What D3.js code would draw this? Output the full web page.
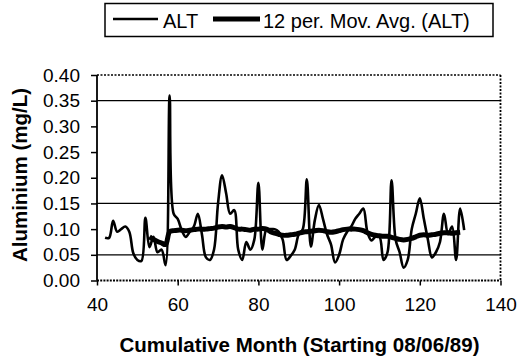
<!DOCTYPE html>
<html><head><meta charset="utf-8">
<script src="https://cdn.jsdelivr.net/npm/d3@7"></script>
<style>
html,body{margin:0;padding:0;background:#fff;}
svg{display:block;font-family:"Liberation Sans",Arial,sans-serif;}
</style></head>
<body><svg id="c" width="518" height="364"></svg>
<script>
// ---- data ----
const altStartMonth = 42;
const altValues = [
 0.083,0.083,0.116,0.095,0.100,0.105,0.095,0.053,0.040,0.038,
 0.122,0.065,0.085,0.055,0.060,0.030,0.360,0.130,0.120,0.098,
 0.085,0.095,0.105,0.130,0.090,0.045,0.040,0.060,0.150,0.205,
 0.170,0.130,0.137,0.060,0.040,0.075,0.060,0.080,0.190,0.060,
 0.100,0.100,0.100,0.095,0.080,0.040,0.048,0.060,0.090,0.100,
 0.197,0.066,0.118,0.147,0.120,0.090,0.070,0.035,0.050,0.080,
 0.095,0.105,0.120,0.130,0.140,0.095,0.078,0.085,0.085,0.040,
 0.055,0.195,0.080,0.055,0.025,0.040,0.100,0.130,0.160,0.120,
 0.080,0.045,0.055,0.075,0.130,0.090,0.105,0.040,0.140,0.098
];
const maStartMonth = 53;
const maValues = [
 0.085,0.080,0.076,0.073,0.070,0.095,0.097,0.098,0.098,0.097,
 0.098,0.099,0.100,0.100,0.100,0.101,0.102,0.104,0.105,0.104,
 0.105,0.103,0.100,0.100,0.099,0.098,0.100,0.100,0.101,0.100,
 0.095,0.092,0.090,0.088,0.088,0.089,0.090,0.092,0.094,0.095,
 0.096,0.097,0.098,0.097,0.095,0.094,0.095,0.097,0.099,0.100,
 0.100,0.100,0.099,0.097,0.093,0.090,0.088,0.087,0.086,0.086,
 0.084,0.082,0.080,0.079,0.080,0.082,0.085,0.088,0.089,0.088,
 0.089,0.090,0.092,0.093,0.093,0.092,0.093,0.094
];
const xTicks = [40,60,80,100,120,140];
const yTicks = [0,0.05,0.10,0.15,0.20,0.25,0.30,0.35,0.40];
const gridValues = [0.05,0.15,0.35];
const seriesNames = ["ALT","12 per. Mov. Avg. (ALT)"];
const xTitle = "Cumulative Month (Starting 08/06/89)";
const yTitle = "Aluminium (mg/L)";

// ---- layout ----
const L=97, R=500.5, T=75, B=280.5;
const svg = d3.select("#c");
const x = d3.scaleLinear().domain([40,140]).range([L,R]);
const y = d3.scaleLinear().domain([0,0.40]).range([B,T]);

// gridlines
svg.append("g").selectAll("line").data(gridValues).join("line")
  .attr("x1",L).attr("x2",R).attr("y1",d=>y(d)).attr("y2",d=>y(d))
  .attr("stroke","#000").attr("stroke-width",1.2);

// frame
const fr = svg.append("g").attr("fill","none").attr("stroke","#000");
fr.append("line").attr("x1",L).attr("x2",R).attr("y1",T).attr("y2",T).attr("stroke-width",1.5).attr("stroke-dasharray","2,1.5");
fr.append("line").attr("x1",R).attr("x2",R).attr("y1",T).attr("y2",B).attr("stroke-width",1.8).attr("stroke-dasharray","2,1.5");
fr.append("line").attr("x1",L).attr("x2",R).attr("y1",B).attr("y2",B).attr("stroke-width",2).attr("stroke-dasharray","2,1.2");
fr.append("line").attr("x1",L).attr("x2",L).attr("y1",T).attr("y2",B).attr("stroke-width",1.8);

// axes
const yAxis = d3.axisLeft(y).tickValues(yTicks).tickFormat(d3.format(".2f")).tickSize(6).tickPadding(11);
const gy = svg.append("g").attr("transform",`translate(${L},0)`).call(yAxis);
const xAxis = d3.axisBottom(x).tickValues(xTicks).tickFormat(d3.format("d")).tickSize(5).tickPadding(12);
const gx = svg.append("g").attr("transform",`translate(0,${B})`).call(xAxis);
[gx,gy].forEach(g=>{
  g.select(".domain").remove();
  g.selectAll(".tick line").attr("stroke","#000").attr("stroke-width",1.5);
  g.selectAll("text").attr("fill","#000").style("font-size","19px").style("font-family","'Liberation Sans',Arial,sans-serif");
});

// series
const altData = altValues.map((v,i)=>({m:altStartMonth+i,v}));
const maData = maValues.map((v,i)=>({m:maStartMonth+i,v}));
const line = d3.line().x(d=>x(d.m)).y(d=>y(d.v)).curve(d3.curveCatmullRom.alpha(0.5));
svg.append("path").datum(altData).attr("d",line).attr("fill","none").attr("stroke","#000").attr("stroke-width",2.6).attr("stroke-linejoin","round");
svg.append("path").datum(maData).attr("d",line).attr("fill","none").attr("stroke","#000").attr("stroke-width",5).attr("stroke-linejoin","round");

// titles
svg.append("text").attr("x",299.5).attr("y",352).attr("text-anchor","middle")
  .style("font-size","20.5px").style("font-weight","bold").text(xTitle);
svg.append("text").attr("transform","translate(27,175) rotate(-90)").attr("text-anchor","middle")
  .style("font-size","20.5px").style("font-weight","bold").text(yTitle);

// legend
const lg = svg.append("g");
lg.append("rect").attr("x",105).attr("y",3.5).attr("width",388).attr("height",33)
  .attr("fill","#fff").attr("stroke","#000").attr("stroke-width",1.5);
lg.append("line").attr("x1",113).attr("x2",158).attr("y1",19).attr("y2",19).attr("stroke","#000").attr("stroke-width",2.6);
lg.append("text").attr("x",163).attr("y",27.5).style("font-size","20px").text(seriesNames[0]);
lg.append("line").attr("x1",213).attr("x2",260).attr("y1",19).attr("y2",19).attr("stroke","#000").attr("stroke-width",5);
lg.append("text").attr("x",263).attr("y",27.5).style("font-size","20px").text(seriesNames[1]);
</script></body></html>
